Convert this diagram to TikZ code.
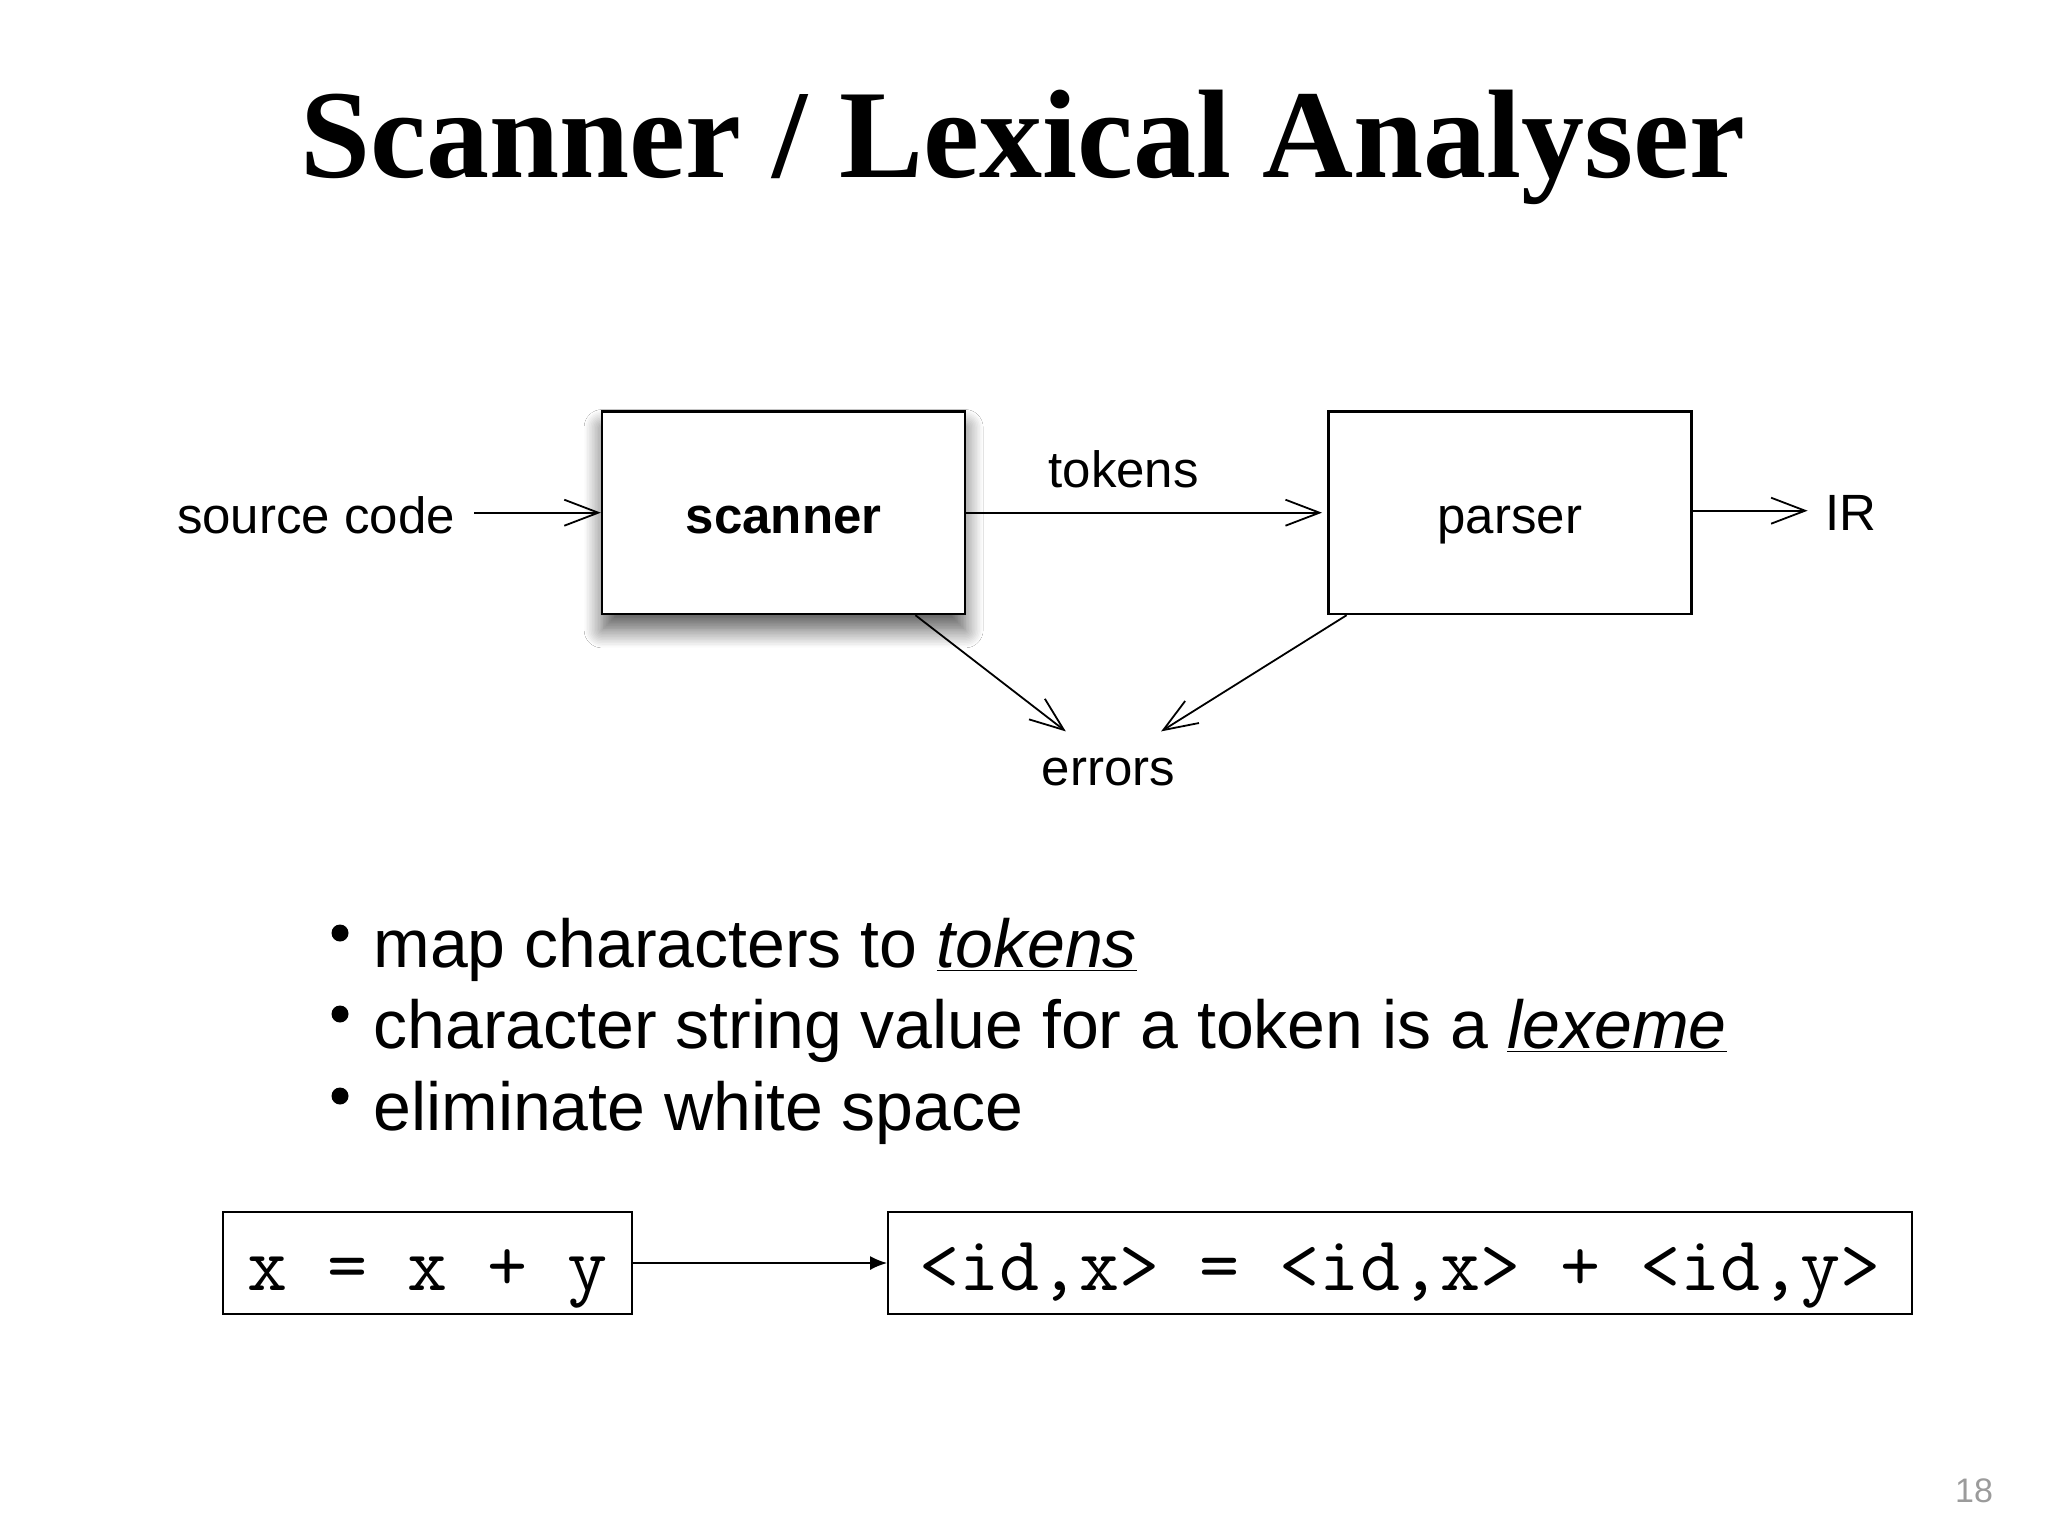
\documentclass[tikz,border=0pt]{standalone}
\usepackage{fontspec}
\setmainfont{Liberation Sans}
\newfontfamily\titlefont{Liberation Serif}
\usetikzlibrary{arrows.meta,shadows.blur}
\definecolor{pnum}{RGB}{155,155,155}
\begin{document}
\begin{tikzpicture}[x=0.5pt,y=-0.5pt,
  box/.style={draw, line width=1.3pt, fill=white, minimum width=181.5pt, minimum height=101.2pt,
    inner sep=0pt, text height=20.3pt, text depth=0pt, font=\fontsize{25.5}{30}\selectfont},
  lbl/.style={anchor=base, inner sep=0pt, font=\fontsize{25.5}{30}\selectfont},
  arr/.style={line width=0.9pt, -{Straight Barb[length=17pt,width=13pt,line width=0.9pt]}},
  bul/.style={circle, fill=black, inner sep=0pt, minimum size=8.5pt},
  bultext/.style={anchor=base west, inner sep=0pt, font=\fontsize{34}{41}\selectfont},
  codebox/.style={draw, line width=1pt, inner sep=0pt, text height=30pt, text depth=3pt,
    minimum height=51pt, font=\ttfamily\fontsize{38.9}{44}\selectfont},
  flow/.style={line width=0.9pt, -{Latex[length=8.5pt,width=7pt]}}
]
\fill[white] (0,0) rectangle (2048,1536);
\useasboundingbox (0,0) rectangle (2048,1536);

% title
\node[anchor=base, inner sep=0pt, font=\titlefont\bfseries\fontsize{63}{70}\selectfont] (title) at (1022.7,177) {Scanner / Lexical Analyser};

% diagram
\node[box, blur shadow={shadow xshift=0pt, shadow yshift=-8pt, shadow blur radius=9pt, shadow blur steps=12, shadow opacity=65}] (scanner) at (783.6,512.7) {\bfseries scanner};
\node[box] (parser) at (1509.8,512.7) {parser};
\node[lbl] (src) at (316,533) {source code};
\node[lbl] (tok) at (1123.7,487) {tokens};
\node[lbl] (ir) at (1850.5,530) {IR};
\node[lbl] (err) at (1108.5,785) {errors};

\coordinate (srcend) at ([xshift=9.5pt]src.east);
\draw[arr] (srcend |- scanner.west) -- (scanner.west);
\draw[arr, shorten >=2.5pt] (scanner.east) -- (parser.west);
\draw[arr, shorten >=8.5pt] ([yshift=1pt]parser.east) -- ([yshift=1pt]parser.east -| ir.west);
\coordinate (e1) at (1065.8,731.4);
\coordinate (e2) at (1161.1,731.4);
\draw[arr] ([xshift=-25.5pt]scanner.south east) -- (e1);
\draw[arr] ([xshift=9.8pt]parser.south west) -- (e2);

% bullets
\node[bul] (b1) at (340,933) {};
\node[bul] (b2) at (340,1014) {};
\node[bul] (b3) at (340,1096) {};
\node[bultext] (l1) at (373,967) {map characters to \underline{\textit{tokens}}};
\node[bultext] (l2) at (373,1048) {character string value for a token is a \underline{\textit{lexeme}}};
\node[bultext] (l3) at (373,1130) {eliminate white space};

% code example
\node[codebox, minimum width=204.4pt] (in) at (427.7,1263) {x = x + y};
\node[codebox, minimum width=512pt] (out) at (1400.1,1263) {<id,x> = <id,x> + <id,y>};
\draw[flow] (in.east) -- (out.west);

% page number
\node[anchor=base, inner sep=0pt, text=pnum, font=\fontsize{17}{20}\selectfont] (pg) at (1974,1502) {18};
\end{tikzpicture}
\end{document}
